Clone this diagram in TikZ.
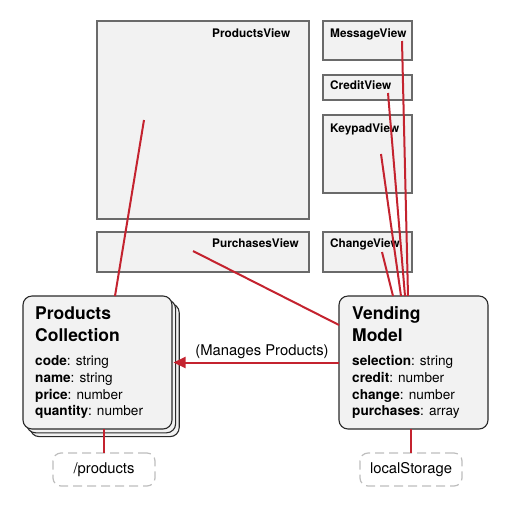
\documentclass[tikz,border=0pt]{standalone}
\usepackage{fontspec}
\setmainfont{TeX Gyre Heros}
\usetikzlibrary{shadows,calc,arrows.meta}
\definecolor{boxfill}{HTML}{F2F2F2}
\definecolor{viewline}{HTML}{6A6A6A}
\definecolor{modelline}{HTML}{2A2A2A}
\definecolor{linkred}{HTML}{C4232F}
\definecolor{dashgray}{HTML}{BDBDBD}
\begin{document}
\begin{tikzpicture}[x=1pt,y=-1pt,
  viewbox/.style={draw=viewline, line width=1.4pt, fill=boxfill, anchor=north west, inner sep=0pt, outer sep=0pt},
  viewlabel/.style={font=\fontsize{11.8}{13}\selectfont\bfseries, anchor=base west, inner sep=0pt},
  modelbox/.style={draw=modelline, line width=1.1pt, fill=boxfill, rounded corners=9pt, anchor=north west, inner sep=0pt, outer sep=0pt, minimum width=149pt, minimum height=133pt},
  titletext/.style={font=\fontsize{17.5}{22}\selectfont\bfseries, anchor=base west, inner sep=0pt},
  attrtext/.style={font=\fontsize{13.6}{16}\selectfont, anchor=base west, inner sep=0pt},
  storebox/.style={draw=dashgray, line width=1.2pt, dash pattern=on 9pt off 5pt, rounded corners=8pt, minimum width=102pt, minimum height=33pt, inner sep=0pt, outer sep=0pt, font=\fontsize{14.8}{16}\selectfont},
  link/.style={draw=linkred, line width=2pt},
]
\useasboundingbox (0,0) rectangle (511,507);

% views
\node[viewbox, minimum width=212pt, minimum height=198pt] (pv) at (97,21) {};
\node[viewlabel] (pvl) at (212,37) {ProductsView};
\node[viewbox, minimum width=212pt, minimum height=40pt] (puv) at (97,232) {};
\node[viewlabel] (puvl) at (212,247) {PurchasesView};
\node[viewbox, minimum width=89pt, minimum height=39pt] (mv) at (323,21) {};
\node[viewlabel] (mvl) at (330,37) {MessageView};
\node[viewbox, minimum width=89pt, minimum height=25pt] (cv) at (323,75) {};
\node[viewlabel] (cvl) at (330,89) {CreditView};
\node[viewbox, minimum width=89pt, minimum height=78pt] (kv) at (323,115) {};
\node[viewlabel] (kvl) at (330,132) {KeypadView};
\node[viewbox, minimum width=89pt, minimum height=40pt] (chv) at (323,232) {};
\node[viewlabel] (chvl) at (330,247) {ChangeView};

% models
\node[modelbox, double copy shadow={shadow xshift=3.6pt, shadow yshift=-3.8pt, draw=modelline, fill=boxfill, line width=1.1pt}] (pc) at (23,296) {};
\node[titletext] (pct1) at (35,319) {Products};
\node[titletext] (pct2) at (35,341) {Collection};
\node[attrtext] (pca1) at (35,365) {\textbf{code}: string};
\node[attrtext] (pca2) at (35,382) {\textbf{name}: string};
\node[attrtext] (pca3) at (35,399) {\textbf{price}: number};
\node[attrtext] (pca4) at (35,415) {\textbf{quantity}: number};

\node[modelbox] (vm) at (339,296) {};
\node[titletext] (vmt1) at (352,319) {Vending};
\node[titletext] (vmt2) at (352,341) {Model};
\node[attrtext] (vma1) at (352,365) {\textbf{selection}: string};
\node[attrtext] (vma2) at (352,382) {\textbf{credit}: number};
\node[attrtext] (vma3) at (352,399) {\textbf{change}: number};
\node[attrtext] (vma4) at (352,415) {\textbf{purchases}: array};

% storage
\node[storebox] (prod) at (104,469.5) {/products};
\node[storebox] (ls) at (411,469.5) {localStorage};

% connector ends
\coordinate (pvpt) at (144,120);
\coordinate (pupt) at (193,251);
\coordinate (mvpt) at (402,41);
\coordinate (cvpt) at (388,93);
\coordinate (kvpt) at (381,154);
\coordinate (chpt) at (382,252);
\coordinate (pctop) at (115,296);
\coordinate (vmleft) at (339,325);
\coordinate (vmtop1) at (408,296);
\coordinate (vmtop2) at (405,296);
\coordinate (vmtop3) at (401,296);
\coordinate (vmtop4) at (393,296);

% connectors
\draw[link] (pvpt) -- (pctop);
\draw[link] (pupt) -- (vmleft);
\draw[link] (mvpt) -- (vmtop1);
\draw[link] (cvpt) -- (vmtop2);
\draw[link] (kvpt) -- (vmtop3);
\draw[link] (chpt) -- (vmtop4);
\draw[link] (prod.north) -- (prod.north |- pc.south);
\draw[link] (ls.north) -- (ls.north |- vm.south);
\draw[link, -{Triangle[length=12pt,width=11pt]}] (vm.west) -- ($(pc.east)+(1.5,0)$);
\node[font=\fontsize{14.8}{16}\selectfont, anchor=base, inner sep=0pt] (mgl) at (262,355) {(Manages Products)};
\end{tikzpicture}
\end{document}
